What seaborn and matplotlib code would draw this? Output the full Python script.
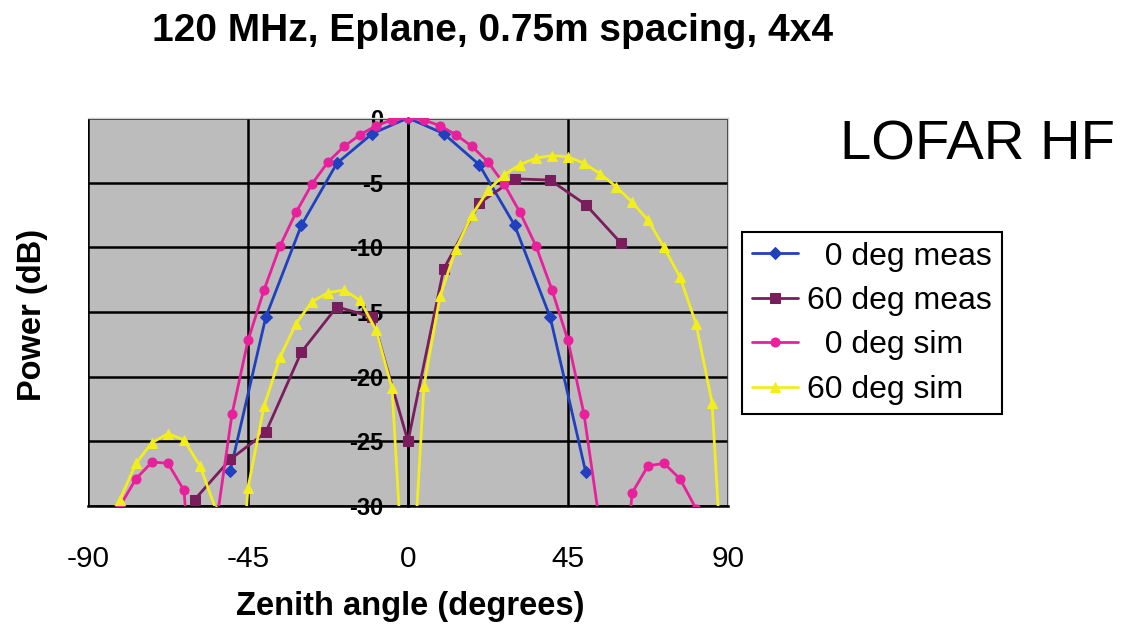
import matplotlib
matplotlib.use("Agg")
import matplotlib.pyplot as plt
import seaborn as sns
import pandas as pd

# ---------------- data ----------------
sim_angles = [-90, -85.5, -81, -76.5, -72, -67.5, -63, -58.5, -54, -49.5, -45,
              -40.5, -36, -31.5, -27, -22.5, -18, -13.5, -9, -4.5, 0,
              4.5, 9, 13.5, 18, 22.5, 27, 31.5, 36, 40.5, 45,
              49.5, 54, 58.5, 63, 67.5, 72, 76.5, 81, 85.5, 90]

sim0_db = [-45, -40, -30.0, -27.9, -26.6, -26.7, -28.8, -45, -31.5, -22.9, -17.2,
           -13.3, -9.9, -7.3, -5.1, -3.4, -2.2, -1.3, -0.6, -0.15, 0,
           -0.15, -0.6, -1.3, -2.2, -3.4, -5.1, -7.3, -9.9, -13.3, -17.2,
           -22.9, -31.5, -45, -29.0, -26.9, -26.7, -27.9, -30.2, -40, -45]

sim60_db = [-45, -31.5, -29.5, -26.7, -25.1, -24.4, -24.9, -26.9, -30.3, -45, -28.6,
            -22.3, -18.5, -15.9, -14.2, -13.5, -13.3, -14.1, -16.4, -20.9, -42,
            -20.7, -13.8, -10.1, -7.5, -5.6, -4.4, -3.6, -3.1, -2.9, -3.0,
            -3.5, -4.3, -5.3, -6.5, -7.9, -10.0, -12.3, -15.9, -22.0, -43]

meas0_angles = [-50, -40, -30, -20, -10, 0, 10, 20, 30, 40, 50]
meas0_db = [-27.3, -15.4, -8.3, -3.5, -1.2, 0, -1.2, -3.6, -8.3, -15.4, -27.4]

meas60_angles = [-60, -50, -40, -30, -20, -10, 0, 10, 20, 30, 40, 50, 60]
meas60_db = [-29.5, -26.4, -24.3, -18.1, -14.6, -15.4, -25.0, -11.7, -6.6, -4.7, -4.8, -6.7, -9.7]

series_labels = ["  0 deg meas", "60 deg meas", "  0 deg sim", "60 deg sim"]
series_colors = ["#2040c0", "#7a1d5c", "#e8209c", "#f2ee1c"]
series_markers = ["D", "s", "o", "^"]

x_ticks = [-90, -45, 0, 45, 90]
y_ticks = [0, -5, -10, -15, -20, -25, -30]

title_text = "120 MHz, Eplane, 0.75m spacing, 4x4"
side_text = "LOFAR HF"
x_label = "Zenith angle (degrees)"
y_label = "Power (dB)"

# ---------------- plot ----------------
sns.set_theme(style="white")
plt.rcParams["font.family"] = ["Liberation Sans", "DejaVu Sans"]
plt.rcParams["text.color"] = "black"
plt.rcParams["xtick.color"] = "black"
plt.rcParams["ytick.color"] = "black"
plt.rcParams["axes.labelcolor"] = "black"

W, H = 1126, 629
fig = plt.figure(figsize=(W / 100, H / 100), dpi=100)
ax = fig.add_axes([88 / W, 1 - 506 / H, (728 - 88) / W, (506 - 118) / H])
ax.set_facecolor("#bcbcbc")

frames = [
    pd.DataFrame({"angle": meas0_angles, "db": meas0_db}),
    pd.DataFrame({"angle": meas60_angles, "db": meas60_db}),
    pd.DataFrame({"angle": sim_angles, "db": sim0_db}),
    pd.DataFrame({"angle": sim_angles, "db": sim60_db}),
]

for df, lab, col, mk in zip(frames, series_labels, series_colors, series_markers):
    sns.lineplot(data=df, x="angle", y="db", ax=ax, color=col, marker=mk,
                 markersize=6.5, markeredgecolor=col, linewidth=2.0,
                 label=lab, sort=False, estimator=None, zorder=3)

ax.set_xlim(-90, 90)
ax.set_ylim(-30, 0)

ax.spines["left"].set_position(("data", 0))
ax.spines["left"].set_color("black")
ax.spines["left"].set_linewidth(1.8)
ax.spines["bottom"].set_color("black")
ax.spines["bottom"].set_linewidth(1.8)
for s in ["top", "right"]:
    ax.spines[s].set_color("#d0d0d0")
    ax.spines[s].set_linewidth(1.0)

ax.set_xticks(x_ticks)
ax.set_yticks(y_ticks)
ax.set_xticklabels([str(t) for t in x_ticks])
ax.set_yticklabels([str(t) for t in y_ticks])
ax.tick_params(axis="y", length=0, pad=18, labelsize=17, labelcolor="black")
ax.tick_params(axis="x", length=0, pad=28, labelsize=21.5, labelcolor="black")
for lbl in ax.get_yticklabels():
    lbl.set_fontweight("bold")

ax.grid(True, color="black", linewidth=1.8, zorder=1)
ax.set_axisbelow(True)
ax.set_xlabel("")
ax.set_ylabel("")

ax.get_legend().remove()
handles, labels = ax.get_legend_handles_labels()
leg = fig.legend(handles, labels, loc="upper left",
                 bbox_to_anchor=(742 / W, 1 - 232 / H),
                 fontsize=23, frameon=True, fancybox=False, framealpha=1,
                 edgecolor="black", handlelength=1.45, handletextpad=0.3,
                 labelspacing=0.45, borderpad=0.3, borderaxespad=0)
leg.get_frame().set_linewidth(1.5)
for t in leg.get_texts():
    t.set_color("black")

fig.text(493 / W, 1 - 31 / H, title_text, ha="center", va="center",
         fontsize=28, fontweight="bold", color="black")
fig.text(840 / W, 1 - 160 / H, side_text, ha="left", va="baseline",
         fontsize=40.5, color="black")
fig.text(410 / W, 1 - 607 / H, x_label, ha="center", va="center",
         fontsize=23.5, fontweight="bold", color="black")
fig.text(33 / W, 1 - 315 / H, y_label, ha="center", va="center",
         fontsize=23.5, fontweight="bold", rotation=90, color="black")

fig.savefig("out.png", dpi=100, facecolor="white")
